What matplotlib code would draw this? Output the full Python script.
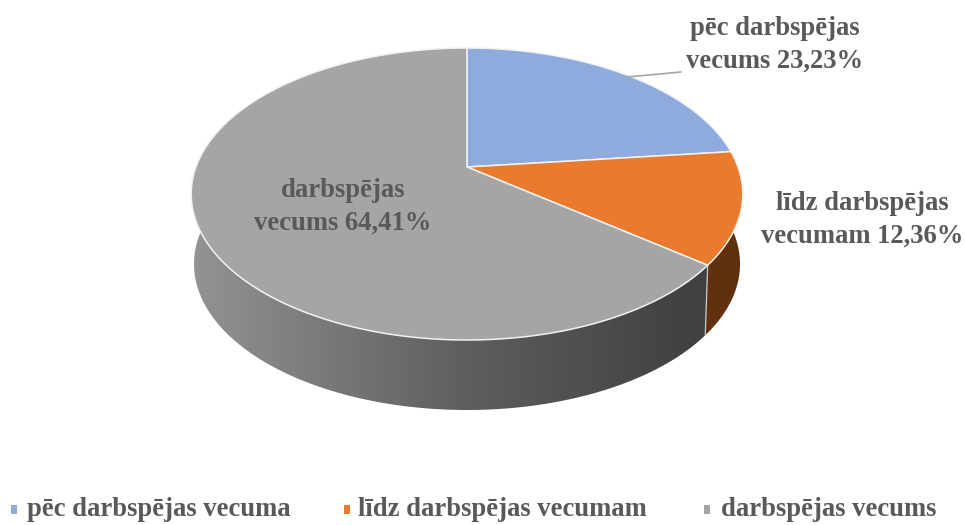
import numpy as np
import matplotlib
matplotlib.use('Agg')
import matplotlib.pyplot as plt
from matplotlib.colors import LinearSegmentedColormap
from matplotlib.patches import Polygon

# Dati
vecuma_grupas = ['pēc darbspējas vecuma', 'līdz darbspējas vecumam', 'darbspējas vecums']
daļas = [23.23, 12.36, 64.41]
krāsas = ['#8faadc', '#ea7a2e', '#a5a5a5']
etiķetes = ['pēc darbspējas\nvecums 23,23%', 'līdz darbspējas\nvecumam 12,36%', 'darbspējas\nvecums 64,41%']

plt.rcParams['font.family'] = ['Liberation Serif', 'DejaVu Serif']
teksta_krāsa = '#595959'

# Pie center and perspective of the tilted disc, in image pixels
cx, cy = 467, 167
a, b, k = 271, 141, 0.185
dziļums = 70
sašaurinājums = 0.99


def mala(leņķi, apakša=False):
    # leņķi in degrees, clockwise from the top of the pie
    t = np.radians(leņķi)
    x, y = np.sin(t), np.cos(t)
    d = 1 + k * y
    X, Y = a * x / d, -b * y / d
    if apakša:
        return cx + X * sašaurinājums, cy + Y + dziļums
    return cx + X, cy + Y


robežas = np.concatenate([[0], np.cumsum(daļas)]) * 3.6

fig = plt.figure(figsize=(9.65, 5.25), dpi=100)
ax = fig.add_axes([0, 0, 1, 1])

# Side wall of the grey slice, horizontal gradient
sāns = np.linspace(robežas[2], 285, 120)
x1, y1 = mala(sāns)
x2, y2 = mala(sāns, True)
siena = Polygon(np.column_stack([np.r_[x1, x2[::-1]], np.r_[y1, y2[::-1]]]),
                fc='none', ec='none', transform=ax.transData)
ax.add_patch(siena)
pelēks = LinearSegmentedColormap.from_list('siena', [(0, '#939393'), (0.5, '#5e5e5e'), (0.9, '#414141'), (1, '#414141')])
attēls = ax.imshow(np.linspace(0, 1, 256).reshape(1, -1), cmap=pelēks, extent=(191, 743, 525, 0), aspect='auto', zorder=1)
attēls.set_clip_path(siena)

# Side wall of the orange slice
sāns = np.linspace(robežas[1], robežas[2], 60)
x1, y1 = mala(sāns)
x2, y2 = mala(sāns, True)
ax.fill(np.r_[x1, x2[::-1]], np.r_[y1, y2[::-1]], color='#61310f', lw=0, zorder=1)

# Edge between the two walls
x1, y1 = mala(robežas[2])
x2, y2 = mala(robežas[2], True)
ax.plot([x1, x2], [y1, y2], color='#c8c8c8', lw=0.9, zorder=2)

# Top face
for i in range(len(daļas)):
    leņķi = np.linspace(robežas[i], robežas[i + 1], 200)
    x, y = mala(leņķi)
    ax.fill(np.r_[cx, x], np.r_[cy, y], fc=krāsas[i], ec='#f2f2f2', lw=1.1, joinstyle='round', zorder=3)

# Leader line
ax.plot([627, 681], [77, 72], color='#a6a6a6', lw=1.2, zorder=4)

# Data labels
fs = 19.2
ls = 1.42
ax.text(775, 45, etiķetes[0], ha='center', va='center', fontsize=fs, fontweight='bold', color=teksta_krāsa, linespacing=ls, zorder=5)
ax.text(862, 220, etiķetes[1], ha='center', va='center', fontsize=fs, fontweight='bold', color=teksta_krāsa, linespacing=ls, zorder=5)
ax.text(343, 207, etiķetes[2], ha='center', va='center', fontsize=fs, fontweight='bold', color=teksta_krāsa, linespacing=ls, zorder=5)

# Legend
for nosaukums, krāsa, mx, tx in zip(vecuma_grupas, krāsas, [13, 346, 706], [27, 358, 721]):
    ax.fill([mx - 2, mx + 4, mx + 4, mx - 2], [505, 505, 514, 514], color=krāsa, lw=0)
    ax.text(tx, 510, nosaukums, ha='left', va='center', fontsize=fs, fontweight='bold', color=teksta_krāsa)

ax.set_xlim(0, 965)
ax.set_ylim(525, 0)
ax.axis('off')

plt.savefig('out.png', dpi=100)
